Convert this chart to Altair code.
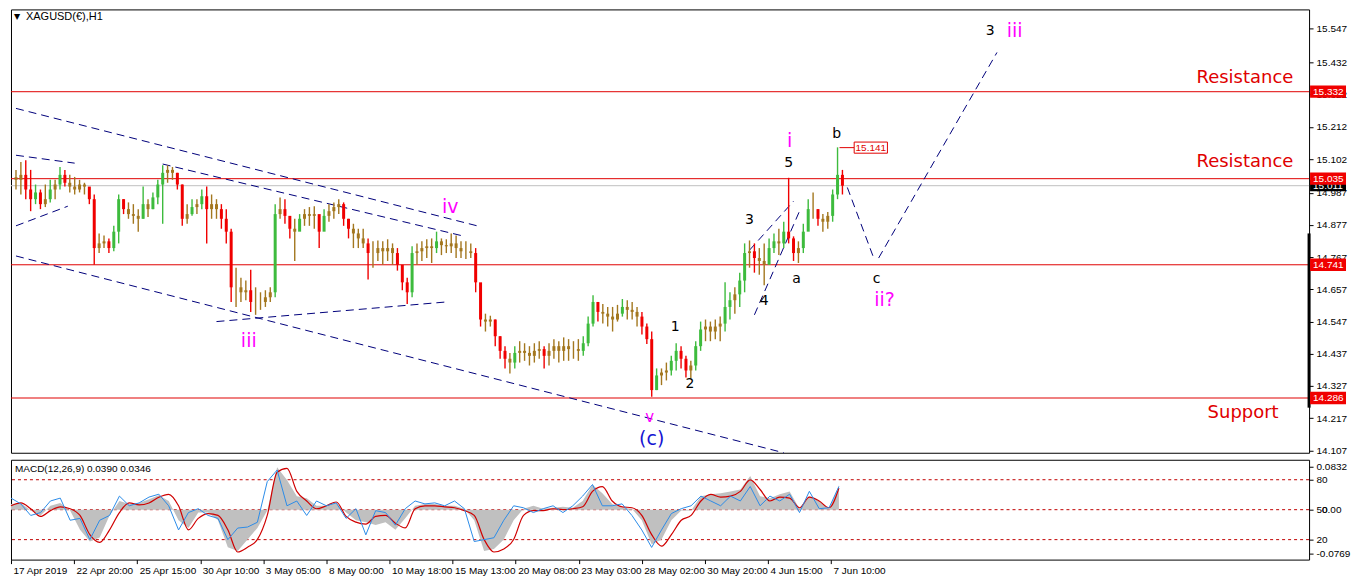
import altair as alt
import pandas as pd

# ---------------- price data (H1 candles, resampled) ----------------
hi = [15.065, 15.092, 15.098, 15.065, 15.015, 14.998, 15.015, 15.031, 15.031, 15.075,
      15.065, 15.048, 15.041, 15.031, 15.021, 14.998, 14.981, 14.848, 14.841, 14.831,
      14.874, 14.981, 14.965, 14.954, 14.948, 14.931, 15.008, 14.965, 14.988, 15.031,
      15.081, 15.081, 15.075, 15.055, 15.015, 14.948, 14.965, 14.965, 14.998, 15.008,
      14.981, 14.965, 14.948, 14.931, 14.864, 14.731, 14.697, 14.687, 14.724, 14.664,
      14.647, 14.654, 14.664, 14.948, 14.971, 14.965, 14.898, 14.898, 14.914, 14.931,
      14.938, 14.941, 14.898, 14.931, 14.948, 14.954, 14.965, 14.954, 14.898, 14.881,
      14.864, 14.864, 14.831, 14.821, 14.824, 14.821, 14.828, 14.814, 14.798, 14.731,
      14.697, 14.804, 14.814, 14.821, 14.828, 14.831, 14.854, 14.831, 14.828, 14.848,
      14.841, 14.821, 14.821, 14.814, 14.798, 14.647, 14.574, 14.567, 14.554, 14.497,
      14.463, 14.440, 14.463, 14.480, 14.473, 14.463, 14.473, 14.480, 14.463, 14.473,
      14.487, 14.480, 14.493, 14.487, 14.480, 14.487, 14.497, 14.564, 14.637, 14.614,
      14.607, 14.597, 14.597, 14.604, 14.624, 14.620, 14.614, 14.597, 14.580, 14.540,
      14.513, 14.387, 14.387, 14.407, 14.430, 14.473, 14.463, 14.430, 14.413, 14.480,
      14.547, 14.554, 14.547, 14.554, 14.564, 14.681, 14.647, 14.664, 14.714, 14.814,
      14.824, 14.814, 14.798, 14.814, 14.831, 14.848, 14.864, 14.888, 15.038, 14.838,
      14.821, 14.881, 14.965, 14.988, 14.931, 14.914, 14.921, 14.998, 15.142, 15.065]
lo = [14.998, 14.981, 14.965, 14.924, 14.948, 14.931, 14.938, 14.954, 14.965, 14.998,
      15.008, 14.988, 14.981, 14.988, 14.981, 14.948, 14.741, 14.781, 14.798, 14.781,
      14.787, 14.814, 14.914, 14.898, 14.881, 14.854, 14.898, 14.904, 14.931, 14.948,
      14.881, 15.021, 15.031, 14.998, 14.874, 14.881, 14.908, 14.914, 14.931, 14.814,
      14.898, 14.898, 14.864, 14.814, 14.614, 14.597, 14.614, 14.620, 14.580, 14.570,
      14.587, 14.597, 14.614, 14.630, 14.898, 14.881, 14.831, 14.754, 14.864, 14.874,
      14.874, 14.864, 14.798, 14.864, 14.888, 14.898, 14.914, 14.874, 14.831, 14.798,
      14.798, 14.798, 14.691, 14.731, 14.754, 14.741, 14.754, 14.741, 14.721, 14.654,
      14.607, 14.630, 14.741, 14.754, 14.764, 14.747, 14.781, 14.774, 14.781, 14.781,
      14.764, 14.764, 14.761, 14.764, 14.647, 14.530, 14.513, 14.530, 14.463, 14.420,
      14.387, 14.370, 14.387, 14.407, 14.413, 14.397, 14.407, 14.420, 14.387, 14.397,
      14.420, 14.407, 14.413, 14.413, 14.420, 14.413, 14.430, 14.463, 14.530, 14.547,
      14.540, 14.530, 14.513, 14.547, 14.564, 14.554, 14.554, 14.530, 14.503, 14.470,
      14.290, 14.313, 14.330, 14.346, 14.363, 14.380, 14.387, 14.356, 14.353, 14.380,
      14.447, 14.480, 14.480, 14.487, 14.480, 14.513, 14.554, 14.574, 14.597, 14.647,
      14.731, 14.714, 14.707, 14.671, 14.741, 14.781, 14.774, 14.798, 14.814, 14.754,
      14.747, 14.781, 14.864, 14.898, 14.874, 14.854, 14.864, 14.888, 14.965, 14.981]
cl = [15.031, 15.048, 14.998, 14.965, 14.988, 14.948, 14.965, 14.998, 15.015, 15.048,
      15.021, 15.008, 14.998, 15.015, 15.008, 14.965, 14.798, 14.814, 14.821, 14.798,
      14.854, 14.965, 14.931, 14.914, 14.908, 14.898, 14.948, 14.931, 14.971, 15.015,
      15.055, 15.065, 15.055, 15.015, 14.898, 14.914, 14.938, 14.948, 14.975, 14.931,
      14.948, 14.931, 14.898, 14.854, 14.664, 14.664, 14.647, 14.654, 14.614, 14.614,
      14.614, 14.630, 14.647, 14.914, 14.931, 14.908, 14.864, 14.854, 14.898, 14.914,
      14.908, 14.914, 14.854, 14.908, 14.924, 14.938, 14.948, 14.898, 14.864, 14.848,
      14.831, 14.814, 14.781, 14.781, 14.798, 14.787, 14.798, 14.781, 14.741, 14.681,
      14.647, 14.781, 14.787, 14.798, 14.804, 14.798, 14.821, 14.808, 14.804, 14.814,
      14.798, 14.787, 14.787, 14.781, 14.681, 14.554, 14.547, 14.554, 14.497, 14.447,
      14.420, 14.407, 14.440, 14.447, 14.440, 14.430, 14.447, 14.453, 14.430, 14.447,
      14.463, 14.447, 14.463, 14.453, 14.453, 14.447, 14.473, 14.540, 14.614, 14.580,
      14.574, 14.564, 14.554, 14.574, 14.597, 14.587, 14.580, 14.564, 14.530, 14.487,
      14.313, 14.363, 14.373, 14.380, 14.413, 14.447, 14.420, 14.380, 14.397, 14.463,
      14.520, 14.530, 14.513, 14.530, 14.540, 14.597, 14.620, 14.640, 14.687, 14.781,
      14.787, 14.764, 14.754, 14.741, 14.798, 14.821, 14.814, 14.854, 14.831, 14.781,
      14.798, 14.854, 14.931, 14.931, 14.898, 14.888, 14.908, 14.981, 15.048, 15.011]
first_open = 15.040

# ---------------- indicator data ----------------
macd_main = [0.0092, 0.0108, -0.0015, -0.0092, 0.0062, 0.0108, -0.0015, -0.0323, -0.0508, -0.0447,
             -0.0092, 0.0139, 0.0092, 0.0108, 0.0169, 0.0231, 0.0139, -0.0169, -0.0293, -0.0046,
             -0.0046, -0.0169, -0.0601, -0.0662, -0.0477, -0.0293, -0.0015, 0.0678, 0.0477, 0.0216,
             0.0185, 0.0062, 0.0062, 0.0108, -0.0046, -0.0169, -0.0200, -0.0246, -0.0200, -0.0323,
             -0.0139, 0.0062, 0.0092, 0.0092, 0.0062, 0.0062, 0.0015, -0.0169, -0.0662, -0.0631,
             -0.0477, -0.0169, 0.0015, 0.0062, 0.0015, 0.0031, 0.0046, 0.0031, 0.0139, 0.0400,
             0.0262, 0.0092, 0.0031, 0.0015, -0.0169, -0.0554, -0.0477, -0.0169, -0.0015, -0.0015,
             0.0216, 0.0246, 0.0262, 0.0293, 0.0323, 0.0539, 0.0216, 0.0185, 0.0246, 0.0293,
             0.0015, 0.0216, 0.0139, 0.0015, 0.0390]
macd_signal = [0.0062, 0.0108, 0.0015, -0.0108, -0.0015, 0.0046, 0.0015, -0.0092, -0.0400, -0.0524,
               -0.0323, -0.0046, 0.0108, 0.0077, 0.0108, 0.0200, 0.0246, 0.0062, -0.0323, -0.0139,
               -0.0062, -0.0092, -0.0323, -0.0678, -0.0601, -0.0477, -0.0092, 0.0601, 0.0662, 0.0293,
               0.0139, 0.0015, 0.0062, 0.0123, -0.0108, -0.0200, -0.0231, -0.0108, -0.0092, -0.0216,
               -0.0293, 0.0015, 0.0062, 0.0062, 0.0046, 0.0031, -0.0015, -0.0092, -0.0477, -0.0678,
               -0.0631, -0.0477, -0.0092, -0.0015, -0.0015, 0.0015, 0.0000, 0.0015, 0.0046, 0.0293,
               0.0370, 0.0139, 0.0046, 0.0031, -0.0092, -0.0400, -0.0585, -0.0400, -0.0169, -0.0092,
               0.0139, 0.0246, 0.0200, 0.0216, 0.0293, 0.0477, 0.0323, 0.0139, 0.0200, 0.0185,
               0.0031, 0.0200, 0.0139, 0.0031, 0.0346]
osc_blue = [61.6, 55.8, 44.2, 47.1, 58.7, 61.6, 39.4, 41.3, 20.0, 39.4,
            44.2, 63.6, 53.9, 56.8, 62.6, 65.5, 53.9, 29.7, 47.1, 51.0,
            44.2, 41.3, 20.0, 31.6, 32.6, 37.4, 78.1, 89.7, 53.9, 58.7,
            44.2, 58.7, 53.9, 56.8, 41.3, 51.0, 24.8, 49.0, 47.1, 34.5,
            51.0, 58.7, 55.8, 56.8, 53.9, 58.7, 51.0, 18.1, 20.0, 21.9,
            39.4, 53.9, 51.9, 47.1, 51.0, 53.9, 47.1, 53.9, 63.6, 75.2,
            53.9, 53.9, 55.8, 44.2, 29.7, 12.2, 29.7, 46.1, 51.0, 53.9,
            63.6, 58.7, 53.9, 63.6, 58.7, 73.2, 53.9, 63.6, 58.7, 65.5,
            47.1, 68.4, 51.0, 51.9, 73.2]

# ---------------- axes / levels / annotations ----------------
x_tick_bars = [0, 12.8, 25.6, 38.4, 51.2, 64.0, 76.8, 89.6, 102.4, 115.2, 128.0, 140.8, 153.6, 166.4]
x_tick_labels = ["17 Apr 2019", "22 Apr 20:00", "25 Apr 15:00", "30 Apr 10:00", "3 May 05:00",
                 "8 May 00:00", "10 May 18:00", "15 May 13:00", "20 May 08:00", "23 May 03:00",
                 "28 May 02:00", "30 May 20:00", "4 Jun 15:00", "7 Jun 10:00"]
price_ticks = [15.547, 15.432, 15.322, 15.212, 15.102, 14.987, 14.877, 14.767, 14.657,
               14.547, 14.437, 14.327, 14.217, 14.107]
levels = [15.332, 15.035, 14.741, 14.286]
bid = 15.011

seg_x1 = [0, 0, 30, 0, 0, 41, 150, 151, 170, 176.4]
seg_p1 = [15.275, 15.115, 15.085, 14.874, 14.771, 14.547, 14.791, 14.570, 15.005, 14.764]
seg_x2 = [95, 12, 91, 10.6, 157, 88, 159, 160.4, 175.4, 200.6]
seg_p2 = [14.871, 15.088, 14.841, 14.941, 14.099, 14.614, 14.958, 14.931, 14.764, 15.466]

ann_text = ["iii", "iv", "v", "(c)", "1", "2", "3", "4", "5", "i", "a", "b", "c", "ii?", "3", "iii"]
ann_x = [47.6, 88.8, 129.6, 130.0, 134.8, 137.8, 150.0, 153.0, 158.0, 158.2, 159.6, 167.8, 176.0, 177.6, 199.2, 204.2]
ann_p = [14.480, 14.938, 14.220, 14.146, 14.527, 14.333, 14.894, 14.617, 15.088, 15.165,
         14.694, 15.188, 14.694, 14.620, 15.539, 15.539]
ann_kind = ["m", "m", "v", "c", "k", "k", "k", "k", "k", "m", "k", "k", "k", "m", "k", "m"]

side_text = ["Resistance", "Resistance", "Support"]
side_x = [261.2, 261.2, 258.2]
side_p = [15.379, 15.091, 14.236]

b_price = 15.141
b_x1, b_x2, b_line_x = 171.4, 178.2, 168.4

# ---------------- layout constants ----------------
W = 1300
H1 = 444
H2 = 100
XMAX = 263.4
PMIN, PMAX = 14.099, 15.613
FONT = "DejaVu Sans"
AXFONT = "Liberation Sans"

xs = alt.Scale(domain=[0, XMAX], nice=False, zero=False)
ys = alt.Scale(domain=[PMIN, PMAX], nice=False, zero=False)
Y_AX = alt.Axis(orient="right", values=price_ticks, format=".3f", title=None, grid=False,
                domain=False, tickSize=4, labelPadding=3, labelFont=AXFONT, labelFontSize=10,
                labelColor="black", tickColor="black")

# ---------------- price panel ----------------
n = len(cl)
op = [first_open] + cl[:-1]
kind = []
for o_, c_ in zip(op, cl):
    d = c_ - o_
    kind.append("u" if d > 0.022 else ("d" if d < -0.022 else "m"))
candles = pd.DataFrame({"i": list(range(n)), "hi": hi, "lo": lo, "op": op, "cl": cl, "k": kind})
ccol = alt.Color("k:N", scale=alt.Scale(domain=["u", "d", "m"], range=["#3dbb3d", "#f00000", "#a3771f"]),
                 legend=None)

wicks = alt.Chart(candles).mark_rule(strokeWidth=1.4).encode(
    x=alt.X("i:Q", scale=xs, axis=None),
    y=alt.Y("hi:Q", scale=ys, axis=Y_AX),
    y2="lo:Q",
    color=ccol)
bodies = alt.Chart(candles).mark_bar(size=3).encode(
    x=alt.X("i:Q", scale=xs, axis=None),
    y=alt.Y("op:Q", scale=ys, axis=Y_AX),
    y2="cl:Q",
    color=ccol)

lev_df = pd.DataFrame({"p": levels, "t": [f"{v:.3f}" for v in levels]})
lev_rules = alt.Chart(lev_df).mark_rule(color="#e00000", strokeWidth=1).encode(
    y=alt.Y("p:Q", scale=ys, axis=Y_AX))
bid_df = pd.DataFrame({"p": [bid], "t": [f"{bid:.3f}"]})
bid_rule = alt.Chart(bid_df).mark_rule(color="#c0c0c0", strokeWidth=1).encode(
    y=alt.Y("p:Q", scale=ys, axis=Y_AX))

seg_df = pd.DataFrame({"x1": seg_x1, "p1": seg_p1, "x2": seg_x2, "p2": seg_p2})
segs = alt.Chart(seg_df).mark_rule(color="#00007a", strokeWidth=1, strokeDash=[8, 5]).encode(
    x=alt.X("x1:Q", scale=xs, axis=None), x2="x2:Q",
    y=alt.Y("p1:Q", scale=ys, axis=Y_AX), y2="p2:Q")

cmap = {"m": "#ff00ff", "v": "#ff00ff", "k": "#000000", "c": "#1414d2"}
smap = {"m": 19, "v": 15, "k": 14, "c": 19}
ann_df = pd.DataFrame({"x": ann_x, "p": ann_p, "t": ann_text,
                       "c": [cmap[k] for k in ann_kind], "s": [smap[k] for k in ann_kind]})
ann = alt.Chart(ann_df).mark_text(font=FONT, baseline="middle", align="center").encode(
    x=alt.X("x:Q", scale=xs, axis=None),
    y=alt.Y("p:Q", scale=ys, axis=Y_AX),
    text="t:N",
    color=alt.Color("c:N", scale=None),
    size=alt.Size("s:Q", scale=None))

side_df = pd.DataFrame({"x": side_x, "p": side_p, "t": side_text})
side = alt.Chart(side_df).mark_text(font=FONT, fontSize=18, color="#e00000", align="right",
                                    baseline="middle").encode(
    x=alt.X("x:Q", scale=xs, axis=None),
    y=alt.Y("p:Q", scale=ys, axis=Y_AX),
    text="t:N")

# 15.141 high tag
b_df = pd.DataFrame({"x1": [b_x1], "x2": [b_x2], "xl": [b_line_x], "p": [b_price], "t": [f"{b_price:.3f}"]})
b_box = alt.Chart(b_df).transform_calculate(top="datum.p + 0.019", bot="datum.p - 0.019").mark_rect(
    fill="white", stroke="#e00000", strokeWidth=1).encode(
    x=alt.X("x1:Q", scale=xs, axis=None), x2="x2:Q",
    y=alt.Y("top:Q", scale=ys, axis=Y_AX), y2="bot:Q")
b_line = alt.Chart(b_df).mark_rule(color="#e00000", strokeWidth=1).encode(
    x=alt.X("xl:Q", scale=xs, axis=None), x2="x1:Q",
    y=alt.Y("p:Q", scale=ys, axis=Y_AX))
b_txt = alt.Chart(b_df).transform_calculate(xm="(datum.x1 + datum.x2) / 2").mark_text(
    font=AXFONT, fontSize=10, color="#e00000", baseline="middle").encode(
    x=alt.X("xm:Q", scale=xs, axis=None),
    y=alt.Y("p:Q", scale=ys, axis=Y_AX),
    text="t:N")

# right-side price tags
tag_red = alt.Chart(lev_df).transform_calculate(top="datum.p + 0.021", bot="datum.p - 0.021").mark_rect(
    fill="#f00000").encode(
    x=alt.value(W + 1), x2=alt.value(W + 37),
    y=alt.Y("top:Q", scale=ys, axis=Y_AX), y2="bot:Q")
tag_red_t = alt.Chart(lev_df).mark_text(font=AXFONT, fontSize=10, color="white", align="left",
                                        baseline="middle").encode(
    x=alt.value(W + 4), y=alt.Y("p:Q", scale=ys, axis=Y_AX), text="t:N")
tag_bid = alt.Chart(bid_df).transform_calculate(top="datum.p + 0.019", bot="datum.p - 0.019").mark_rect(
    fill="black").encode(
    x=alt.value(W + 1), x2=alt.value(W + 37),
    y=alt.Y("top:Q", scale=ys, axis=Y_AX), y2="bot:Q")
tag_bid_t = alt.Chart(bid_df).mark_text(font=AXFONT, fontSize=10, color="white", align="left",
                                        baseline="middle").encode(
    x=alt.value(W + 4), y=alt.Y("p:Q", scale=ys, axis=Y_AX), text="t:N")
marker_df = pd.DataFrame({"a": [14.848], "b": [14.253]})
marker = alt.Chart(marker_df).mark_rule(color="black", strokeWidth=3).encode(
    x=alt.value(W), y=alt.Y("a:Q", scale=ys, axis=Y_AX), y2="b:Q")

title_df = pd.DataFrame({"t": ["XAGUSD(€),H1"]})
title_txt = alt.Chart(title_df).mark_text(font=AXFONT, fontSize=11, color="black", align="left",
                                          baseline="middle").encode(
    x=alt.value(15), y=alt.value(8), text="t:N")
tri_df = pd.DataFrame({"t": ["▼"]})
tri_txt = alt.Chart(tri_df).mark_text(font=FONT, fontSize=8, color="black", align="left",
                                      baseline="middle").encode(
    x=alt.value(3), y=alt.value(8), text="t:N")

price = alt.layer(lev_rules, bid_rule, segs, wicks, bodies, ann, side, b_line, b_box, b_txt,
                  marker, tag_bid, tag_bid_t, tag_red, tag_red_t, title_txt, tri_txt).properties(
    width=W, height=H1)

# ---------------- MACD panel ----------------
m = len(macd_main)
ind = pd.DataFrame({"x": [2 * j for j in range(m)], "g": macd_main, "r": macd_signal, "b": osc_blue})
ms = alt.Scale(domain=[-0.08, 0.08], nice=False, zero=False)
os_ = alt.Scale(domain=[0, 100], nice=False, zero=False)
label_js = "[" + ",".join("'" + s + "'" for s in x_tick_labels) + "]"
X_AX = alt.Axis(values=x_tick_bars, labelExpr=f"{label_js}[round(datum.value / 12.8)]",
                labelAlign="left", labelOffset=2, labelFlush=False, labelOverlap=False, title=None,
                grid=False, domain=False, tickSize=4, labelPadding=2, labelFont=AXFONT, labelFontSize=10,
                labelColor="black", tickColor="black")
O_AX = alt.Axis(orient="right", values=[93, 80, 50, 20, 6], title=None, grid=False, domain=False,
                tickSize=4, labelPadding=3, labelFont=AXFONT, labelFontSize=10, labelColor="black",
                tickColor="black",
                labelExpr="datum.value == 93 ? '0.0832' : datum.value == 6 ? '-0.0769' : datum.label")

lv_df = pd.DataFrame({"v": [80, 50, 20]})
lv = alt.Chart(lv_df).mark_rule(color="#c00000", strokeDash=[3, 3], strokeWidth=1).encode(
    y=alt.Y("v:Q", scale=os_, axis=O_AX))
hist = alt.Chart(ind).mark_area(color="#c0c0c0", interpolate="linear").encode(
    x=alt.X("x:Q", scale=xs, axis=X_AX),
    y=alt.Y("g:Q", scale=ms, axis=None),
    y2=alt.datum(0))
sig = alt.Chart(ind).mark_line(color="#d00000", strokeWidth=1.2, interpolate="monotone").encode(
    x=alt.X("x:Q", scale=xs, axis=X_AX),
    y=alt.Y("r:Q", scale=ms, axis=None))
blue = alt.Chart(ind).mark_line(color="#2b8ce8", strokeWidth=1).encode(
    x=alt.X("x:Q", scale=xs, axis=X_AX),
    y=alt.Y("b:Q", scale=os_, axis=None))
mlabel_df = pd.DataFrame({"t": ["MACD(12,26,9) 0.0390 0.0346"]})
mlabel = alt.Chart(mlabel_df).mark_text(font=AXFONT, fontSize=10, color="black", align="left",
                                        baseline="middle").encode(
    x=alt.value(4), y=alt.value(9), text="t:N")
zero_df = pd.DataFrame({"v": [50], "t": ["0.00"]})
zero_t = alt.Chart(zero_df).mark_text(font=AXFONT, fontSize=10, color="black", align="left",
                                      baseline="middle").encode(
    x=alt.value(W + 13), y=alt.Y("v:Q", scale=os_, axis=None), text="t:N")

macd = alt.layer(lv, hist, sig, blue, mlabel, zero_t).resolve_scale(y="independent").properties(
    width=W, height=H2)

chart = alt.vconcat(price, macd, spacing=2).properties(
    padding={"left": 0, "top": 0, "right": 2, "bottom": 0}, background="white"
).configure_view(stroke="black", strokeWidth=1)

chart.save("out.html", embed_options={"renderer": "svg", "actions": False})
